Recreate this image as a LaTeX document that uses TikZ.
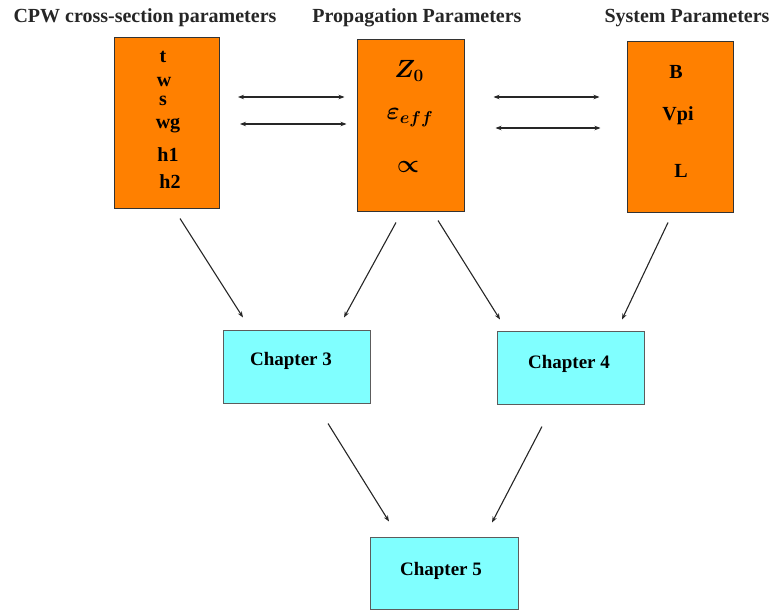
\documentclass[tikz,border=0pt]{standalone}
\usepackage{fontspec}
\setmainfont{Liberation Serif}
\usetikzlibrary{arrows.meta}
\definecolor{orng}{HTML}{FF8000}
\definecolor{cyn}{HTML}{80FFFF}
\definecolor{edge}{HTML}{333333}
\tikzset{
  parbox/.style={draw=edge, fill=orng, line width=1pt, inner sep=0pt},
  chbox/.style={draw=edge!80, fill=cyn, line width=1pt, inner sep=0pt, minimum width=147pt, minimum height=73pt},
  title/.style={font=\fontsize{20}{22}\selectfont\bfseries, text=black!85, inner sep=0pt},
  itm/.style={font=\fontsize{20}{22}\selectfont\bfseries, inner sep=0pt},
  mth/.style={font=\fontsize{24}{26}\selectfont\boldmath, inner sep=0pt},
  chtext/.style={font=\fontsize{19}{21}\selectfont\bfseries, inner sep=0pt},
  arr/.style={-{Stealth[length=6pt,width=4.5pt]}, line width=1.1pt, black!85},
  dbl/.style={{Stealth[length=6pt,width=4.5pt]}-{Stealth[length=6pt,width=4.5pt]}, line width=1.1pt, black!85}
}
\begin{document}
\begin{tikzpicture}[x=1pt,y=-1pt]
\useasboundingbox (0,0) rectangle (771,610);
% titles
\node[title] (t1) at (145,18) {CPW cross-section parameters};
\node[title] (t2) at (417,18) {Propagation Parameters};
\node[title] (t3) at (687,18) {System Parameters};
% parameter boxes
\node[parbox, minimum width=105pt, minimum height=170pt] (b1) at (167,123) {};
\node[parbox, minimum width=107pt, minimum height=171pt] (b2) at (410.5,125.5) {};
\node[parbox, minimum width=106pt, minimum height=170pt] (b3) at (680,127) {};
% box 1 items
\node[itm] (i1) at (163,57) {t};
\node[itm] (i2) at (164,82) {w};
\node[itm] (i3) at (163,101) {s};
\node[itm] (i4) at (168,126) {wg};
\node[itm] (i5) at (168,155) {h1};
\node[itm] (i6) at (170,182) {h2};
% box 2 items
\node[mth] (m1) at (409,71) {$Z_0$};
\node[mth] (m2) at (410,118) {$\varepsilon_{eff}$};
\node[mth] (m3) at (408,167) {$\propto$};
% box 3 items
\node[itm] (s1) at (676,72) {B};
\node[itm] (s2) at (678,116) {Vpi};
\node[itm] (s3) at (681,171) {L};
% chapter boxes
\node[chbox] (c3) at (296.5,366.5) {};
\node[chbox] (c4) at (570.5,367.5) {};
\node[chbox, minimum width=148pt, minimum height=72pt] (c5) at (444,573) {};
\node[chtext] (c3t) at (291,361) {Chapter 3};
\node[chtext] (c4t) at (569,364) {Chapter 4};
\node[chtext] (c5t) at (441,571) {Chapter 5};
% horizontal double arrows
\draw[dbl] ([shift={(18,-26)}]b1.east) -- ([shift={(-12,-28.5)}]b2.west);
\draw[dbl] ([shift={(20,1)}]b1.east) -- ([shift={(-10,-1.5)}]b2.west);
\draw[dbl] ([shift={(29,-28.5)}]b2.east) -- ([shift={(-27,-30)}]b3.west);
\draw[dbl] ([shift={(31,2.5)}]b2.east) -- ([shift={(-26,1)}]b3.west);
% diagonal arrows
\draw[arr] ([shift={(13,10)}]b1.south) -- ([shift={(-53.5,-12)}]c3.north);
\draw[arr] ([shift={(-14.5,11)}]b2.south) -- ([shift={(47.5,-12)}]c3.north);
\draw[arr] ([shift={(27.5,9)}]b2.south) -- ([shift={(-70.5,-11)}]c4.north);
\draw[arr] ([shift={(-12,10)}]b3.south) -- ([shift={(51.5,-11)}]c4.north);
\draw[arr] ([shift={(31.5,20)}]c3.south) -- ([shift={(-55,-15)}]c5.north);
\draw[arr] ([shift={(-28.5,22)}]c4.south) -- ([shift={(48,-14)}]c5.north);
\end{tikzpicture}
\end{document}
